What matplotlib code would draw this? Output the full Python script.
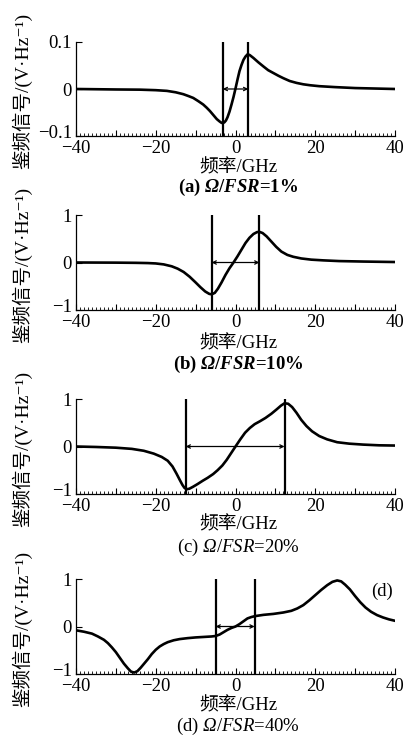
import numpy as np
import matplotlib.pyplot as plt
from matplotlib.ticker import MultipleLocator
from matplotlib.transforms import ScaledTranslation

plt.rcParams['font.family'] = ['Liberation Serif', 'Noto Sans CJK SC', 'DejaVu Serif']
plt.rcParams['mathtext.fontset'] = 'custom'
plt.rcParams['mathtext.it'] = 'Liberation Serif:italic'
plt.rcParams['mathtext.sf'] = 'Liberation Serif:italic'
plt.rcParams['mathtext.rm'] = 'Liberation Serif'
plt.rcParams['mathtext.bf'] = 'Liberation Serif:bold'
plt.rcParams['mathtext.bfit'] = 'Liberation Serif:italic:bold'

# (a) Omega/FSR = 1%
fa = [-40, -35, -30, -24, -20, -17.2, -15, -13.1, -11.8, -10.6, -9.3, -8.1, -7.2, -6.4, -5.5, -4.7,
      -4.0, -3.5, -3.2, -2.8, -2.4, -2.0, -1.5, -1.0, -0.5, 0.0, 0.5, 1.0, 1.5, 2.0, 2.5, 3.05,
      3.6, 4.5, 5.7, 7.0, 8.2, 9.5, 10.8, 12.0, 13.6, 15.3, 17, 18.7, 21, 25, 30, 35, 40]
va = [0.0, -0.0005, -0.001, -0.0014, -0.0025, -0.004, -0.007, -0.011, -0.015, -0.019, -0.026, -0.033,
      -0.040, -0.047, -0.056, -0.064, -0.069, -0.072, -0.0725, -0.071, -0.067, -0.060, -0.048,
      -0.033, -0.017, 0.001, 0.020, 0.038, 0.051, 0.062, 0.069, 0.074, 0.072, 0.066, 0.057,
      0.048, 0.040, 0.034, 0.028, 0.023, 0.017, 0.013, 0.010, 0.008, 0.006, 0.004, 0.002, 0.001, 0.0]
# (b) 10%
fb = [-40, -30, -25, -22, -20, -18, -16, -14.5, -13, -11.5, -10, -8.8, -7.6, -6.6, -6.0, -5.2, -4.4,
      -3.5, -2.5, -1.5, -0.5, 0.5, 1.5, 2.5, 3.5, 4.5, 5.4, 6.0, 6.8, 7.8, 9.0, 10.2, 11.5, 13.0,
      14.5, 16.5, 19, 22, 26, 32, 40]
vb = [0.0, -0.003, -0.007, -0.012, -0.02, -0.04, -0.08, -0.13, -0.2, -0.3, -0.42, -0.52, -0.61, -0.66,
      -0.67, -0.64, -0.55, -0.42, -0.26, -0.12, 0.0, 0.13, 0.27, 0.41, 0.52, 0.60, 0.64, 0.645, 0.62,
      0.55, 0.44, 0.33, 0.23, 0.16, 0.12, 0.085, 0.06, 0.045, 0.03, 0.02, 0.01]
# (c) 20%
fc = [-40, -35, -30, -26, -23, -20.5, -18.5, -17, -15.8, -14.8, -14, -13.3, -12.8, -12.3, -11.6,
      -10.7, -9.5, -8.2, -7, -5.6, -4.5, -3.3, -2.2, -1.1, 0, 1.2, 2.4, 3.6, 4.8, 6.1, 7.5, 9,
      10.3, 11.4, 12.3, 13.2, 14.2, 15.3, 16.5, 17.8, 19.2, 21, 23, 25.5, 28.5, 32, 36, 40]
vc = [0.0, -0.01, -0.025, -0.05, -0.09, -0.15, -0.22, -0.3, -0.42, -0.57, -0.70, -0.81, -0.87, -0.9,
      -0.89, -0.85, -0.79, -0.72, -0.66, -0.58, -0.50, -0.40, -0.28, -0.14, 0.0, 0.15, 0.29, 0.39,
      0.47, 0.53, 0.60, 0.69, 0.78, 0.86, 0.91, 0.9, 0.83, 0.71, 0.56, 0.43, 0.32, 0.22, 0.15,
      0.09, 0.06, 0.04, 0.025, 0.02]
# (d) 40%
fd = [-40, -38, -36, -34.5, -33, -32, -31, -30, -29, -28, -27, -26.2, -25.4, -24.6, -23.8, -23, -22,
      -21, -20, -19, -18, -17, -15.5, -14, -12, -10, -8, -6, -5, -4, -3, -2, -1, 0, 1, 2, 3, 4, 5,
      7, 9.5, 12, 14, 15.5, 17, 18.5, 20, 21.5, 23, 24.3, 25.5, 26.5, 27.5, 28.7, 30, 31.3, 32.6,
      34, 35.5, 37, 38.5, 40]
vd = [-0.08, -0.11, -0.15, -0.21, -0.28, -0.35, -0.44, -0.54, -0.66, -0.78, -0.88, -0.95, -0.97,
      -0.94, -0.87, -0.79, -0.69, -0.58, -0.49, -0.42, -0.37, -0.33, -0.29, -0.265, -0.245, -0.23,
      -0.22, -0.21, -0.2, -0.17, -0.12, -0.07, -0.03, 0.0, 0.05, 0.11, 0.17, 0.2, 0.22, 0.245,
      0.265, 0.295, 0.33, 0.38, 0.45, 0.55, 0.66, 0.77, 0.87, 0.94, 0.97, 0.95, 0.88, 0.78, 0.64,
      0.51, 0.40, 0.31, 0.24, 0.19, 0.15, 0.12]

freqs = [fa, fb, fc, fd]
signals = [va, vb, vc, vd]
markers = [(-3.2, 3.2), (-6.0, 6.0), (-12.5, 12.3), (-5.0, 4.8)]
ylims = [(-0.1, 0.1), (-1, 1), (-1, 1), (-1, 1)]
yticks = [[-0.1, 0, 0.1], [-1, 0, 1], [-1, 0, 1], [-1, 0, 1]]
ytick_labels = [['−0.1', '0', '0.1'], ['−1', '0', '1'], ['−1', '0', '1'], ['−1', '0', '1']]
captions = [r'(a) $\mathbfit{Ω}$/$\mathbfit{FSR}$=1%', r'(b) $\mathbfit{Ω}$/$\mathbfit{FSR}$=10%',
            r'(c) $\mathsf{Ω}$/$\mathit{FSR}$=20%', r'(d) $\mathsf{Ω}$/$\mathit{FSR}$=40%']
cap_weight = ['bold', 'bold', 'normal', 'normal']

W, H = 408, 738
fig = plt.figure(figsize=(W / 100, H / 100), dpi=100)

# pixel layout: (top, bottom) of each axes, then xlabel/caption rows
ax_rows = [(42, 136), (215, 310), (399, 494), (579, 674)]
xlab_y = [168, 344, 525, 706]
cap_y = [187, 364, 547, 726]
left, right = 76, 395
fs = 13.5

for i in range(4):
    top, bot = ax_rows[i]
    ax = fig.add_axes([left / W, 1 - bot / H, (right - left) / W, (bot - top) / H])
    ax.plot(freqs[i], signals[i], color='black', lw=1.9)
    for m in markers[i]:
        ax.axvline(m, color='black', lw=1.6)
    ax.annotate('', xy=(markers[i][1], 0), xytext=(markers[i][0], 0),
                arrowprops=dict(arrowstyle='<->', lw=0.9, color='black',
                                mutation_scale=6, shrinkA=0, shrinkB=0))
    ax.set_xlim(-40, 40)
    ax.set_ylim(*ylims[i])
    ax.set_xticks(range(-40, 41, 10))
    ax.set_xticklabels(['−40', '', '−20', '', '0', '', '20', '', '40'])
    ax.xaxis.set_minor_locator(MultipleLocator(1))
    ax.set_yticks(yticks[i])
    ax.set_yticklabels(ytick_labels[i])
    ax.tick_params(axis='both', which='major', direction='in', length=4, width=0.8,
                   labelsize=13.5)
    ax.tick_params(axis='x', which='major', pad=3)
    ax.tick_params(axis='y', which='major', pad=3)
    ax.tick_params(axis='x', which='minor', direction='in', length=2, width=0.6)
    # lift the lowest y label a little so it clears the -40 label
    low = ax.get_yticklabels()[0]
    low.set_transform(low.get_transform() + ScaledTranslation(0, 3 / 72, fig.dpi_scale_trans))
    for s in ['top', 'right']:
        ax.spines[s].set_visible(False)
    for s in ['left', 'bottom']:
        ax.spines[s].set_linewidth(0.9)
    fig.text(22 / W, 1 - ((top + bot) / 2 + 2) / H, '鉴频信号/(V·Hz⁻¹)', rotation=90,
             ha='center', va='center', fontsize=14)
    fig.text(238 / W, 1 - xlab_y[i] / H, '频率/GHz', ha='center', va='center', fontsize=fs)
    fig.text(238 / W, 1 - cap_y[i] / H, captions[i], ha='center', va='center',
             fontsize=fs, fontweight=cap_weight[i])
    if i == 3:
        ax.text(39.5, 0.75, '(d)', ha='right', va='center', fontsize=fs)

fig.savefig('out.png', dpi=100)
